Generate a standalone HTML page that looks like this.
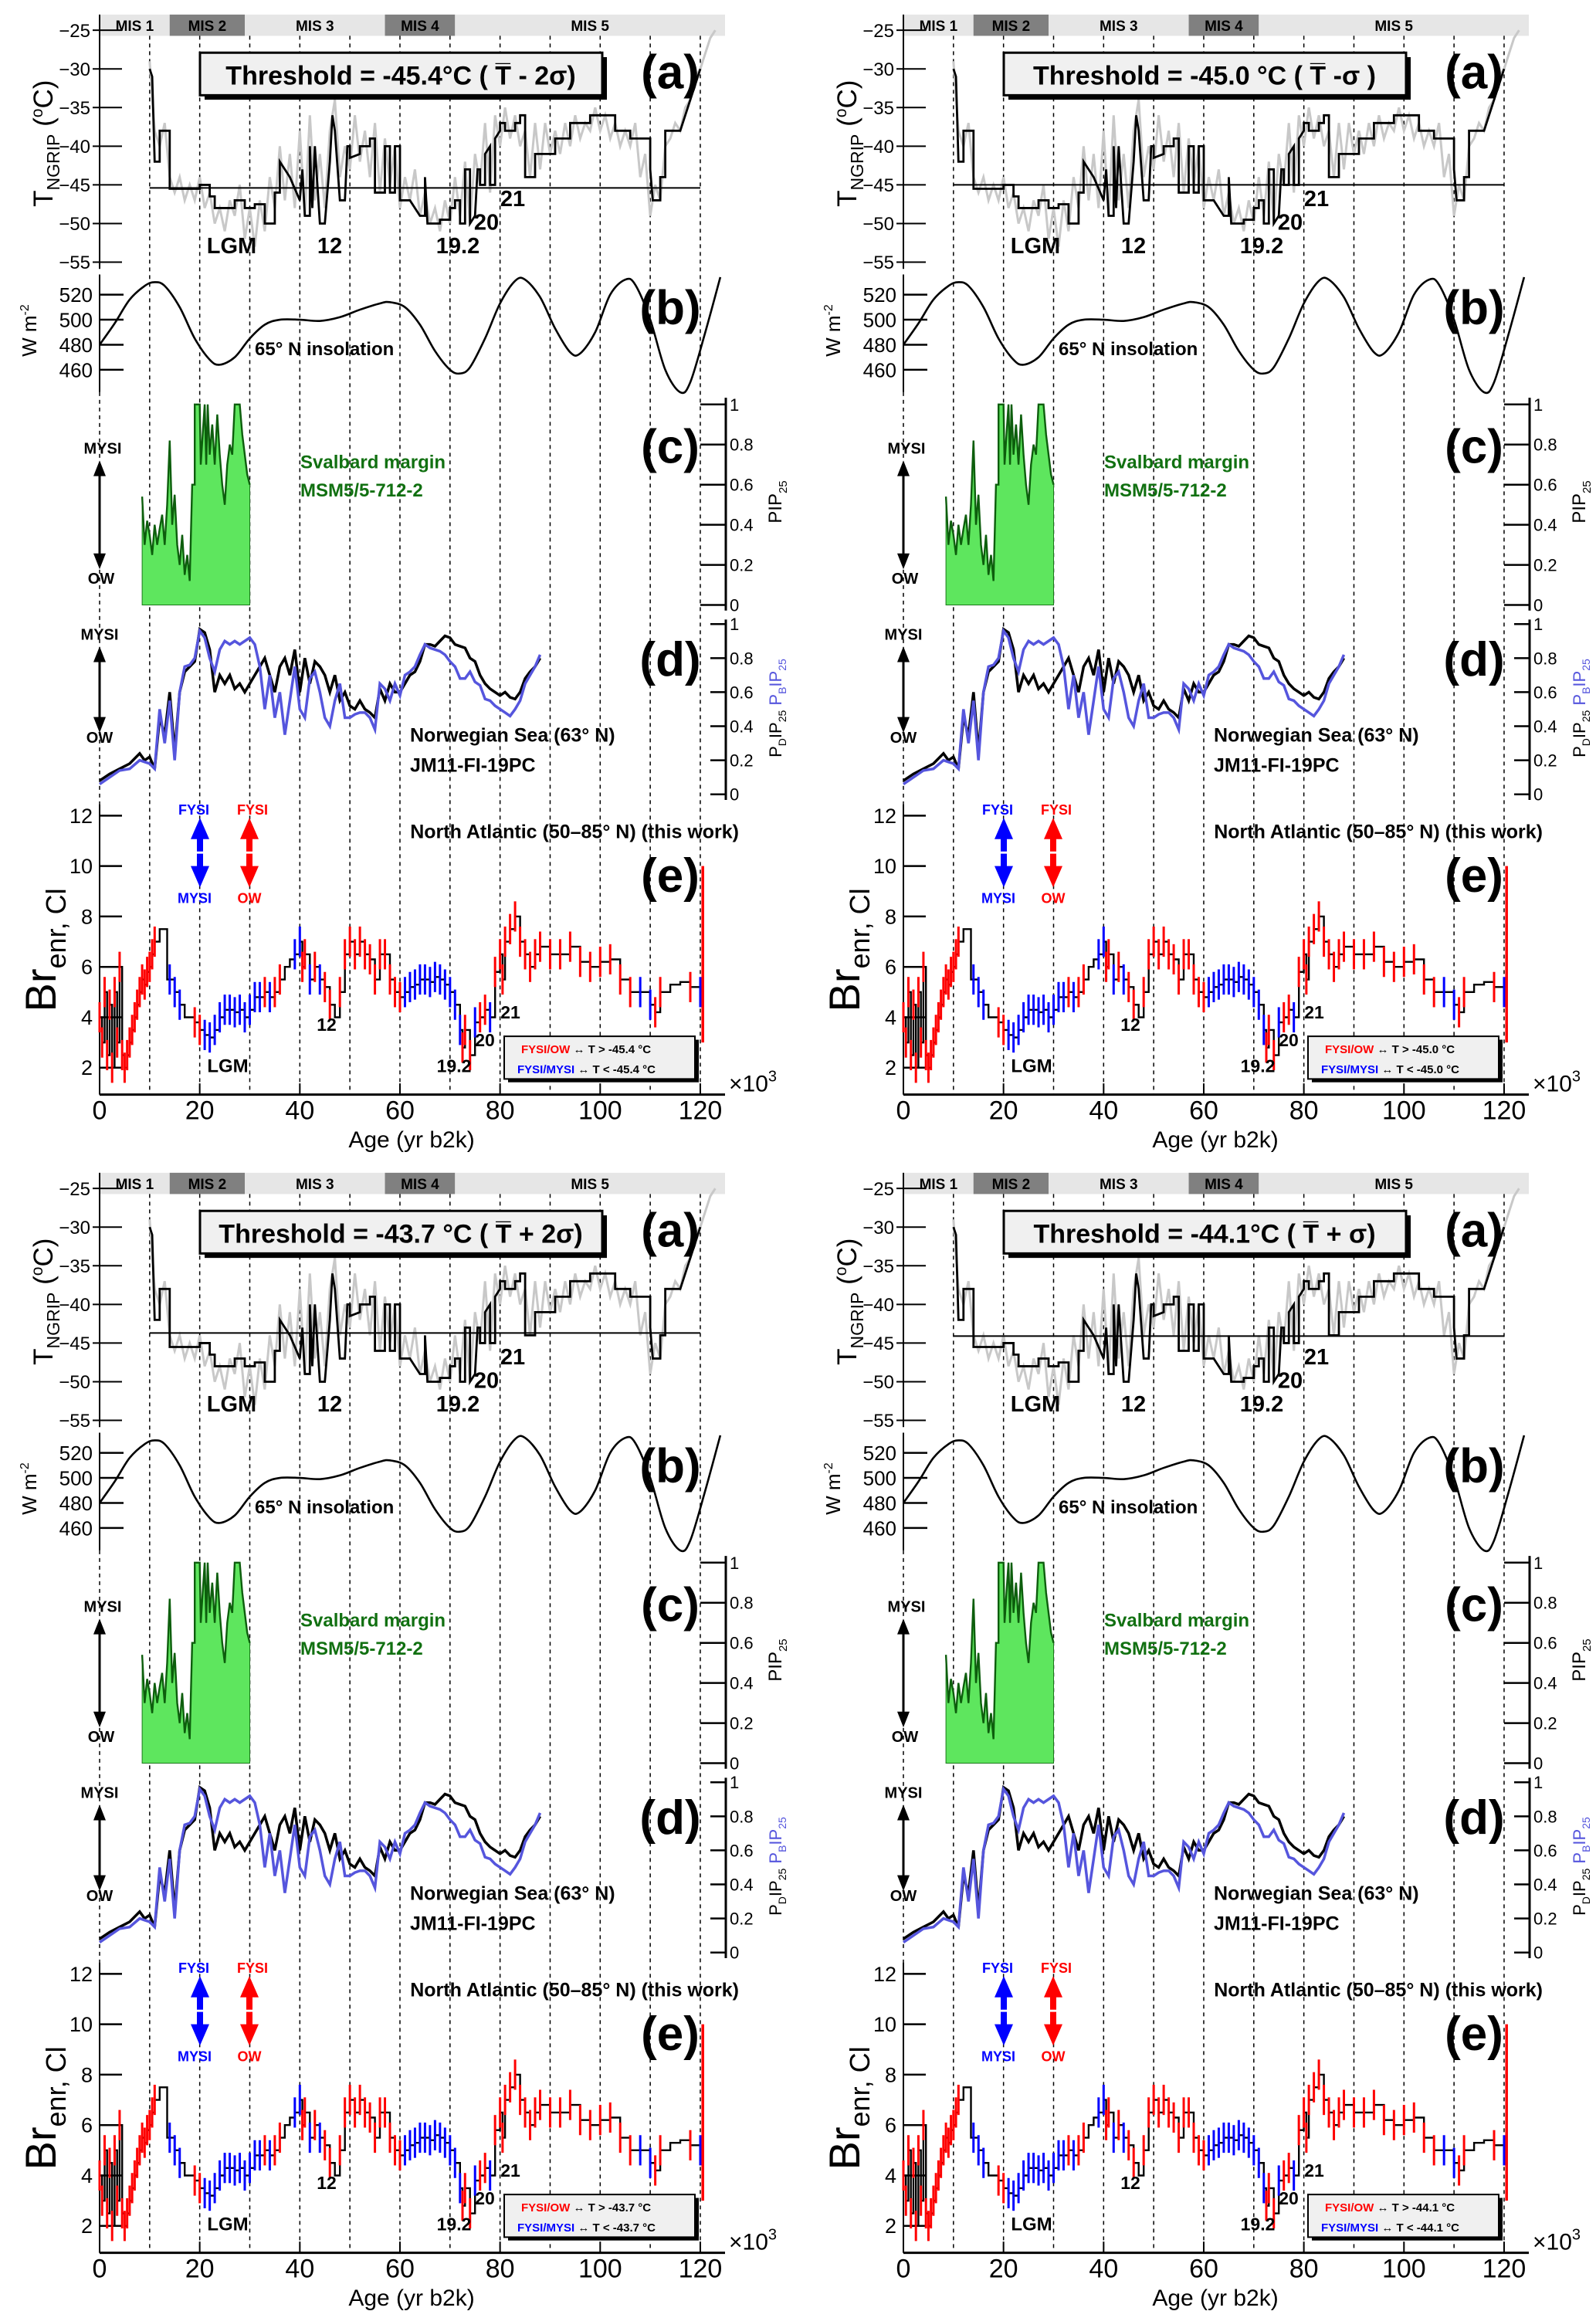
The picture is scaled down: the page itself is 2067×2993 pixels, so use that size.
<!DOCTYPE html>
<html><head><meta charset="utf-8"><style>
html,body{margin:0;padding:0;background:#fff}
svg{display:block}
text{font-family:"Liberation Sans",sans-serif}
</style></head><body>
<svg id="fig" width="2067" height="2993" viewBox="0 0 2067 2993" xmlns="http://www.w3.org/2000/svg"></svg>
<script>
// ---- data ----
const thresholds = [-45.4, -45.0, -43.7, -44.1];
const thresholdLabels = ["Threshold = -45.4°C ( T\u0305 - 2σ)", "Threshold = -45.0 °C ( T\u0305 -σ )", "Threshold = -43.7 °C ( T\u0305 + 2σ)", "Threshold = -44.1°C ( T\u0305 + σ)"];
const legendT = ["-45.4", "-45.0", "-43.7", "-44.1"];
const xTicks = [0, 20, 40, 60, 80, 100, 120];
const tTicks = [-25, -30, -35, -40, -45, -50, -55];
const wTicks = [520, 500, 480, 460];
const pTicks = [0, 0.2, 0.4, 0.6, 0.8, 1];
const brTicks = [2, 4, 6, 8, 10, 12];
const misNames = ["MIS 1", "MIS 2", "MIS 3", "MIS 4", "MIS 5"];
const misStart = [0, 14, 29, 57, 71];
const misEnd = [14, 29, 57, 71, 125];
const tStepAge = [10,10.5,11,12,12,14,14,20,20,22,22,23,23,27,27,29,29,31,31,33,33,35,35,36,36,38,40,40.5,41,42,42,42.5,43,44,45,46,46.5,47,48,49,49.5,50,50,52,52,54,54,55,55,57,57,58,58,59,59,60,60,62,63,64,65,65,65.5,68,68,70,70,71,71,72,72,73,73,74,74,75,75.5,76,76,77,77,78,78,79,79,80,80,81,81,83,83,84,84,85,85,87,87,91,91,94,94,98,98,103,103,106,106,110,110,110.5,112,112,113,113,116,120];
const tStepVal = [-30,-31,-42,-42,-38,-38,-45.5,-45.5,-45,-45,-46.5,-46.5,-48,-48,-47,-47,-48,-48,-47.5,-47.5,-50,-50,-46,-46,-42,-44,-47,-43,-49,-49,-40,-48,-40,-50,-50,-42,-36,-38,-47,-47,-40,-40,-41.5,-41,-40,-40,-39,-39,-46,-46,-40,-40,-46,-46,-40,-40,-47,-47,-48,-49,-49,-44,-50,-50,-49.5,-49.5,-48,-48,-47,-47,-50,-50,-43,-43,-50,-49,-43,-43,-45,-45,-41,-40,-45,-45,-39,-38,-37,-37,-38,-38,-37,-37,-36,-36,-44,-44,-41,-41,-39,-39,-37,-37,-36,-36,-38,-38,-39,-39,-43,-47,-47,-44,-44,-38,-38,-30];
const tRawAge = [10,11,12,13,14,15,16,17,18,19,20,21,22,23,24,25,26,27,28,29,30,31,32,33,34,35,36,37,38,39,40,41,42,43,44,45,46,47,48,49,50,51,52,53,54,55,56,57,58,59,60,61,62,63,64,65,66,67,68,69,70,71,72,73,74,75,76,77,78,79,80,81,82,83,84,85,86,87,88,89,90,91,92,93,94,95,96,97,98,99,100,101,102,103,104,105,106,107,108,109,110,111,112,113,114,115,116,117,118,119,120,121,122,123];
const tRawVal = [-29,-38,-40,-37,-44,-46,-44,-47,-45,-47,-44,-48,-46,-50,-48,-51,-47,-49,-45,-52,-48,-53,-47,-51,-44,-48,-40,-47,-41,-48,-38,-49,-36,-47,-41,-48,-38,-34,-44,-40,-43,-36,-42,-38,-44,-37,-46,-39,-45,-40,-48,-44,-47,-43,-49,-46,-50,-48,-51,-47,-50,-44,-49,-42,-50,-41,-45,-37,-46,-36,-40,-35,-39,-36,-40,-38,-44,-37,-43,-37,-41,-38,-41,-37,-40,-36,-39,-37,-38,-35,-38,-36,-39,-37,-40,-38,-40,-37,-44,-41,-49,-45,-47,-40,-39,-37,-38,-35,-34,-31,-30,-28,-26,-25];
const insAge = [0,3,6,9,11,13,16,19,22,24,27,30,33,36,40,44,48,52,56,58,61,64,67,70,72,74,77,80,83,85,88,91,94,96,99,102,105,107,110,113,116,118,121,124];
const insVal = [480,497,516,527,530,527,510,485,468,464,470,485,496,500,500,499,502,508,513,514,510,496,475,460,457,462,485,513,531,532,518,493,474,473,490,520,532,528,500,460,442,450,490,534];
const pipAge = [8.5,9,9.5,10,10.5,11,11.5,12,12.5,13,13.5,14,14.5,15,15.5,16,16.5,17,17.5,18,18.5,19,19,20,20.2,20.6,21,21.3,21.6,22,22.5,23,23.5,24,24.5,25,25.5,26,26.5,27,28,28.5,29,29.5,30];
const pipVal = [0.54,0.3,0.42,0.35,0.25,0.4,0.3,0.38,0.45,0.3,0.5,0.82,0.4,0.55,0.3,0.2,0.35,0.15,0.25,0.12,0.6,0.6,1,1,0.7,0.85,1,0.7,1,0.75,0.9,0.7,0.95,0.75,0.6,0.5,0.7,0.8,0.75,1,1,0.85,0.75,0.65,0.6];
const dAge = [0,2,4,6,8,9,10,11,12,13,14,15,16,17,18,19,20,21,22,23,24,25,26,27,28,29,30,31,32,33,34,35,36,37,38,39,40,41,42,43,44,45,46,47,48,49,50,51,52,53,54,55,56,57,58,59,60,61,62,63,64,65,66,67,68,69,70,71,72,73,74,75,76,77,78,79,80,81,82,83,84,85,86,87,88];
const pdVal = [0.08,0.12,0.15,0.18,0.24,0.2,0.22,0.15,0.45,0.35,0.6,0.25,0.6,0.72,0.75,0.78,0.97,0.95,0.85,0.6,0.7,0.65,0.7,0.62,0.65,0.6,0.65,0.7,0.75,0.8,0.7,0.6,0.75,0.8,0.7,0.85,0.6,0.8,0.65,0.78,0.75,0.7,0.6,0.7,0.55,0.6,0.52,0.5,0.55,0.5,0.48,0.45,0.62,0.55,0.65,0.6,0.6,0.65,0.7,0.72,0.78,0.88,0.88,0.87,0.9,0.93,0.92,0.88,0.87,0.86,0.8,0.78,0.7,0.65,0.62,0.6,0.58,0.6,0.57,0.56,0.6,0.68,0.72,0.75,0.8];
const pbVal = [0.06,0.1,0.14,0.15,0.2,0.19,0.18,0.15,0.5,0.3,0.55,0.2,0.6,0.75,0.76,0.8,0.96,0.92,0.8,0.72,0.85,0.9,0.88,0.9,0.88,0.9,0.92,0.88,0.75,0.5,0.7,0.45,0.6,0.35,0.55,0.75,0.5,0.45,0.68,0.72,0.6,0.45,0.4,0.55,0.65,0.45,0.45,0.47,0.48,0.48,0.45,0.38,0.65,0.62,0.55,0.65,0.58,0.7,0.72,0.75,0.82,0.88,0.86,0.85,0.84,0.82,0.78,0.75,0.68,0.68,0.72,0.66,0.64,0.56,0.55,0.52,0.5,0.48,0.46,0.5,0.55,0.65,0.7,0.75,0.82];
const brAge = [0,0.5,1,1.5,2,2.5,3,3.5,4,4.5,5,5.5,6,6.5,7,7.5,8,8.5,9,9.5,10,10.5,11,12,13,13.5,14,15,16,17,18,19,20,21,22,23,24,25,26,27,28,29,30,31,32,33,34,35,36,37,38,39,40,40.5,41,42,43,44,45,46,47,48,49,50,51,52,53,54,55,56,57,58,59,60,61,62,63,64,65,66,67,68,69,70,71,72,72.5,73,74,75,76,77,78,79,80,80.5,81,82,83,84,85,86,87,88,90,92,94,96,98,100,102,104,106,108,110,111,112,114,116,118,120];
const brVal = [4,3,5,2.5,4.5,2,5,3,6,2.5,2,2.5,3,3.5,4,4.5,5,5.5,5.3,5.8,6,6.5,7,7.5,7.5,5.5,5.5,5,4.5,4,4,3.8,3.5,3.3,3.2,3.5,4,4.3,4.3,4.2,4.3,4,4.3,4.8,4.8,5,4.8,5,5.5,6,6.3,6.5,7,6,6.5,5.5,6,5.5,5.2,4.5,4,5,6.5,7,6.5,7,6.5,6.3,5.5,6.5,6.5,5.5,5,4.8,5,5.2,5.3,5.5,5.5,5.4,5.6,5.5,5.3,5,4.5,3.5,2.8,3.5,2.5,3.8,4,4.3,4,5.8,6.5,5.5,7,7.5,8,7,6.5,6,6.5,6.8,6.5,6.5,6.8,6.2,6,6.2,6.3,5.5,5,5,4.5,4.2,5,5.3,5.4,5.2,5];
const brCol = "rrrrrrrrrrrrrrrrrrrrrrrkkkbbbkkrrbbbbbbbbbbbbrbrrkkbbrrbrbrrkrrrrrrrrrrrrrbbbbbbbbbbbbrrrbrrbrrrrrrrrrrrrrrrrrrrrbbrrkkr";

// ---- helpers ----
const NS = "http://www.w3.org/2000/svg";
const svg = document.getElementById("fig");
const SY = 1.451;
function mk(tag, attrs, parent) {
  const e = document.createElementNS(NS, tag);
  if (tag !== "text" && tag !== "g") e.setAttribute("vector-effect", "non-scaling-stroke");
  for (const k in attrs) e.setAttribute(k, attrs[k]);
  (parent || svg).appendChild(e);
  return e;
}
function tx(str, x, y, fs, extra, parent, rot) {
  const a = Object.assign({ x: 0, y: 0, "font-size": fs, transform: `translate(${x},${y}) scale(1,${(1 / SY).toFixed(4)})` + (rot ? " rotate(-90)" : "") }, extra || {});
  const e = mk("text", a, parent);
  e.textContent = str;
  return e;
}
const X = a => 129 + a * 6.483;
const YT = t => 27 + (-25 - t) * 6.9;
const YW = w => 263 + (520 - w) * 1.117;
const YC = p => 540 - p * 179;
const YD = p => 709 - p * 152;
const YB = b => 953 - (b - 2) * 22.5;
function ptsOf(ax, ay, fy) { return ax.map((a, i) => X(a).toFixed(1) + "," + fy(ay[i]).toFixed(1)).join(" "); }
function smoothPath(ax, ay, fy) {
  const p = ax.map((a, i) => [X(a), fy(ay[i])]);
  let d = "M" + p[0][0] + "," + p[0][1];
  for (let i = 0; i < p.length - 1; i++) {
    const p0 = p[i - 1] || p[i], p1 = p[i], p2 = p[i + 1], p3 = p[i + 2] || p2;
    d += " C" + (p1[0] + (p2[0] - p0[0]) / 6) + "," + (p1[1] + (p2[1] - p0[1]) / 6) + " " + (p2[0] - (p3[0] - p1[0]) / 6) + "," + (p2[1] - (p3[1] - p1[1]) / 6) + " " + p2[0] + "," + p2[1];
  }
  return d;
}
const B = { "font-weight": "bold" };
const BM = { "font-weight": "bold", "text-anchor": "middle" };

const origins = [[0, 0], [1041, 0], [0, 1500], [1041, 1500]];
origins.forEach((o, pi) => {
  const g = mk("g", { transform: `translate(${o[0]},${o[1]}) scale(1,${SY})` });
  
  
  const thr = thresholds[pi];

  misNames.forEach((n, i) => {
    const r = mk("rect", { x: X(misStart[i]), y: 13, width: Math.min(X(misEnd[i]), 939) - X(misStart[i]), height: 19, fill: i % 2 ? "#808080" : "#e6e6e6" }, g);
    
    
    tx(n, (X(misStart[i]) + Math.min(X(misEnd[i]), 939)) / 2, 27.5, 19, BM, g);
  });

  for (let a = 10; a <= 120; a += 10) {
    const l = mk("line", { x1: X(a), x2: X(a), y1: 32, y2: 977, stroke: "#000", "stroke-width": 1.5, "stroke-dasharray": "5,5" }, g);
    
    
  }
  mk("line", { x1: X(0), x2: X(0), y1: 350, y2: 720, stroke: "#000", "stroke-width": 1.5, "stroke-dasharray": "5,5" }, g);

  // (a)
  mk("line", { x1: 129, x2: 129, y1: 13, y2: 240, stroke: "#000", "stroke-width": 2 }, g);
  tTicks.forEach(t => {
    mk("line", { x1: 120, x2: 158, y1: YT(t), y2: YT(t), stroke: "#000", "stroke-width": 2 }, g);
    tx("\u2212" + Math.abs(t), 117, YT(t) + 6, 24, { "text-anchor": "end" }, g);
  });
  const yl = tx("", 68, 128, 35, { "text-anchor": "middle" }, g, true);
  yl.innerHTML = 'T<tspan font-size="23" dy="9">NGRIP</tspan><tspan dy="-9"> (</tspan><tspan font-size="21" dy="-13">o</tspan><tspan dy="13">C)</tspan>';
  
  
  const grey = mk("polyline", { points: ptsOf(tRawAge, tRawVal, YT), fill: "none", stroke: "#c8c8c8", "stroke-width": 3 }, g);
  
  
  const blk = mk("polyline", { points: ptsOf(tStepAge, tStepVal, YT), fill: "none", stroke: "#000", "stroke-width": 2.8 }, g);
  
  
  const th = mk("line", { x1: X(10), x2: X(120), y1: YT(thr), y2: YT(thr), stroke: "#000", "stroke-width": 2 }, g);
  
  
  mk("rect", { x: 265, y: 51, width: 521, height: 38, fill: "#000" }, g);
  const box = mk("rect", { x: 259, y: 47, width: 521, height: 38, fill: "#f0f0f0", stroke: "#000", "stroke-width": 3 }, g);
  
  
  tx(thresholdLabels[pi], 519, 75.5, 34, BM, g);
  [["(a)", 79], ["(b)", 289], ["(c)", 413], ["(d)", 603], ["(e)", 796]].forEach(([s, y]) => {
    const t = tx(s, 868, y, 62, BM, g);
    
    
  });
  [["LGM", 300, 226], ["12", 427, 226], ["19.2", 593, 226], ["20", 630, 205], ["21", 664, 184]].forEach(([s, x, y]) => {
    tx(s, x, y, 29, BM, g);
  });

  // (b)
  mk("line", { x1: 129, x2: 129, y1: 245, y2: 350, stroke: "#000", "stroke-width": 2 }, g);
  wTicks.forEach(w => {
    mk("line", { x1: 129, x2: 160, y1: YW(w), y2: YW(w), stroke: "#000", "stroke-width": 2.5 }, g);
    tx(String(w), 120, YW(w) + 6.5, 26, { "text-anchor": "end" }, g);
  });
  const wl = tx("", 47, 295, 26, { "text-anchor": "middle" }, g, true);
  wl.innerHTML = 'W m<tspan font-size="16" dy="-10">-2</tspan>';
  const ins = mk("path", { d: smoothPath(insAge, insVal, YW), fill: "none", stroke: "#000", "stroke-width": 2.6 }, g);
  
  
  tx("65° N insolation", 330, 317, 24, B, g);

  // (c)
  mk("line", { x1: 940, x2: 940, y1: 355, y2: 545, stroke: "#000", "stroke-width": 3 }, g);
  pTicks.forEach(p => {
    mk("line", { x1: 907, x2: 940, y1: YC(p), y2: YC(p), stroke: "#000", "stroke-width": 2.5 }, g);
    tx(String(p), 945, YC(p) + 5.5, 22, {}, g);
  });
  const pl = tx("", 1012, 448, 24, { "text-anchor": "middle" }, g, true);
  pl.innerHTML = 'PIP<tspan font-size="15" dy="7">25</tspan>';
  const fillPts = X(pipAge[0]) + "," + YC(0) + " " + ptsOf(pipAge, pipVal, YC) + " " + X(pipAge[pipAge.length - 1]) + "," + YC(0);
  const area = mk("polygon", { points: fillPts, fill: "#5ee65e", stroke: "#1a7a1a", "stroke-width": 1 }, g);
  
  
  mk("polyline", { points: ptsOf(pipAge, pipVal, YC), fill: "none", stroke: "#0d5e0d", "stroke-width": 2.4 }, g);
  tx("Svalbard margin", 389, 418, 24, Object.assign({ fill: "#117011" }, B), g);
  tx("MSM5/5-712-2", 389, 443, 24, Object.assign({ fill: "#117011" }, B), g);
  function dblArrow(x, y1, y2, col, w) {
    mk("line", { x1: x, x2: x, y1: y1 + 10, y2: y2 - 10, stroke: col, "stroke-width": w }, g);
    mk("polygon", { points: `${x - 8},${y1 + 14} ${x + 8},${y1 + 14} ${x},${y1}`, fill: col }, g);
    mk("polygon", { points: `${x - 8},${y2 - 14} ${x + 8},${y2 - 14} ${x},${y2}`, fill: col }, g);
  }
  function diamondArrow(x, y1, y2, col) {
    const m = (y1 + y2) / 2;
    mk("polygon", { points: `${x},${y1} ${x + 12},${m - 12} ${x + 4},${m - 12} ${x + 4},${m - 1} ${x - 4},${m - 1} ${x - 4},${m - 12} ${x - 12},${m - 12}`, fill: col }, g);
    mk("polygon", { points: `${x},${y2} ${x + 12},${m + 12} ${x + 4},${m + 12} ${x + 4},${m + 1} ${x - 4},${m + 1} ${x - 4},${m + 12} ${x - 12},${m + 12}`, fill: col }, g);
  }
  tx("MYSI", 133, 405, 20, BM, g);
  dblArrow(129, 411, 508, "#000", 3);
  tx("OW", 131, 521, 20, BM, g);

  // (d)
  mk("line", { x1: 940, x2: 940, y1: 553, y2: 714, stroke: "#000", "stroke-width": 3 }, g);
  pTicks.forEach(p => {
    mk("line", { x1: 920, x2: 940, y1: YD(p), y2: YD(p), stroke: "#000", "stroke-width": 2.5 }, g);
    tx(String(p), 945, YD(p) + 5.5, 22, {}, g);
  });
  const dl = tx("", 1012, 632, 22, { "text-anchor": "middle" }, g, true);
  dl.innerHTML = 'P<tspan font-size="14" dy="6">D</tspan><tspan dy="-6">IP</tspan><tspan font-size="14" dy="6">25</tspan><tspan dy="-6" fill="#5555dd"> P</tspan><tspan font-size="14" dy="6" fill="#5555dd">B</tspan><tspan dy="-6" fill="#5555dd">IP</tspan><tspan font-size="14" dy="6" fill="#5555dd">25</tspan>';
  const pd = mk("polyline", { points: ptsOf(dAge, pdVal, YD), fill: "none", stroke: "#000", "stroke-width": 3.5 }, g);
  
  
  const pb = mk("polyline", { points: ptsOf(dAge, pbVal, YD), fill: "none", stroke: "#5555dd", "stroke-width": 3.5 }, g);
  
  
  tx("MYSI", 129, 571, 20, BM, g);
  dblArrow(129, 577, 654, "#000", 3);
  tx("OW", 129, 663, 20, BM, g);
  tx("Norwegian Sea (63° N)", 531, 662, 25, B, g);
  tx("JM11-FI-19PC", 531, 689, 25, B, g);

  // (e)
  mk("line", { x1: 129, x2: 129, y1: 718, y2: 977, stroke: "#000", "stroke-width": 2 }, g);
  brTicks.forEach(b => {
    mk("line", { x1: 129, x2: 158, y1: YB(b), y2: YB(b), stroke: "#000", "stroke-width": 2.5 }, g);
    tx(String(b), 120, YB(b) + 6.5, 27, { "text-anchor": "end" }, g);
  });
  const bl = tx("", 72, 848, 56, { "text-anchor": "middle" }, g, true);
  bl.innerHTML = 'Br<tspan font-size="36" dy="13">enr, Cl</tspan>';
  
  
  const xa = mk("line", { x1: 129, x2: 939, y1: 977, y2: 977, stroke: "#000", "stroke-width": 3 }, g);
  
  
  xTicks.forEach(a => {
    mk("line", { x1: X(a), x2: X(a), y1: 967, y2: 977, stroke: "#000", "stroke-width": 2 }, g);
    tx(String(a), X(a), 999, 34, { "text-anchor": "middle" }, g);
  });
  const xl = tx("Age (yr b2k)", 533, 1024, 30, { "text-anchor": "middle" }, g);
  
  
  const xm = tx("", 944, 974, 30, {}, g);
  xm.innerHTML = '×10<tspan font-size="20" dy="-13">3</tspan>';
  let sp = "";
  brAge.forEach((a, i) => {
    sp += (i ? " L" + X(a).toFixed(1) + "," + YB(brVal[i - 1]).toFixed(1) + " L" : "M") + X(a).toFixed(1) + "," + YB(brVal[i]).toFixed(1);
  });
  const br = mk("path", { d: sp, fill: "none", stroke: "#000", "stroke-width": 2.4 }, g);
  
  
  brAge.forEach((a, i) => {
    const c = brCol[i];
    if (c === "k") return;
    const e = mk("line", { x1: X(a), x2: X(a), y1: YB(brVal[i] + 0.6), y2: YB(brVal[i] - 0.6), stroke: c === "r" ? "#ff0000" : "#0000ff", "stroke-width": 3 }, g);
    
    
  });
  mk("line", { x1: X(120.5), x2: X(120.5), y1: YB(10), y2: YB(3), stroke: "#ff0000", "stroke-width": 3.5 }, g);
  tx("LGM", 295, 957, 24, BM, g);
  tx("12", 423, 920, 23, BM, g);
  tx("19.2", 588, 957, 23, BM, g);
  tx("20", 628, 934, 23, BM, g);
  tx("21", 661, 909, 23, BM, g);
  tx("North Atlantic (50–85° N) (this work)", 957, 748, 25, { "font-weight": "bold", "text-anchor": "end" }, g);
  tx("FYSI", 251, 727, 18, Object.assign({ fill: "#0000ff" }, BM), g);
  diamondArrow(259, 730, 792, "#0000ff");
  tx("MYSI", 252, 806, 18, Object.assign({ fill: "#0000ff" }, BM), g);
  tx("FYSI", 327, 727, 18, Object.assign({ fill: "#ff0000" }, BM), g);
  diamondArrow(323, 730, 792, "#ff0000");
  tx("OW", 323, 806, 18, Object.assign({ fill: "#ff0000" }, BM), g);
  mk("rect", { x: 658, y: 928, width: 247, height: 38, fill: "#000" }, g);
  const lg = mk("rect", { x: 653, y: 925, width: 247, height: 38, fill: "#f0f0f0", stroke: "#000", "stroke-width": 2 }, g);
  
  
  const l1 = tx("", 675, 940, 15, B, g);
  l1.innerHTML = '<tspan fill="#ff0000">FYSI/OW</tspan> ↔ T &gt; ' + legendT[pi] + ' °C';
  
  
  const l2 = tx("", 670, 958, 15, B, g);
  l2.innerHTML = '<tspan fill="#0000ff">FYSI/MYSI</tspan> ↔ T &lt; ' + legendT[pi] + ' °C';
  
  
});
</script>
</body></html>
